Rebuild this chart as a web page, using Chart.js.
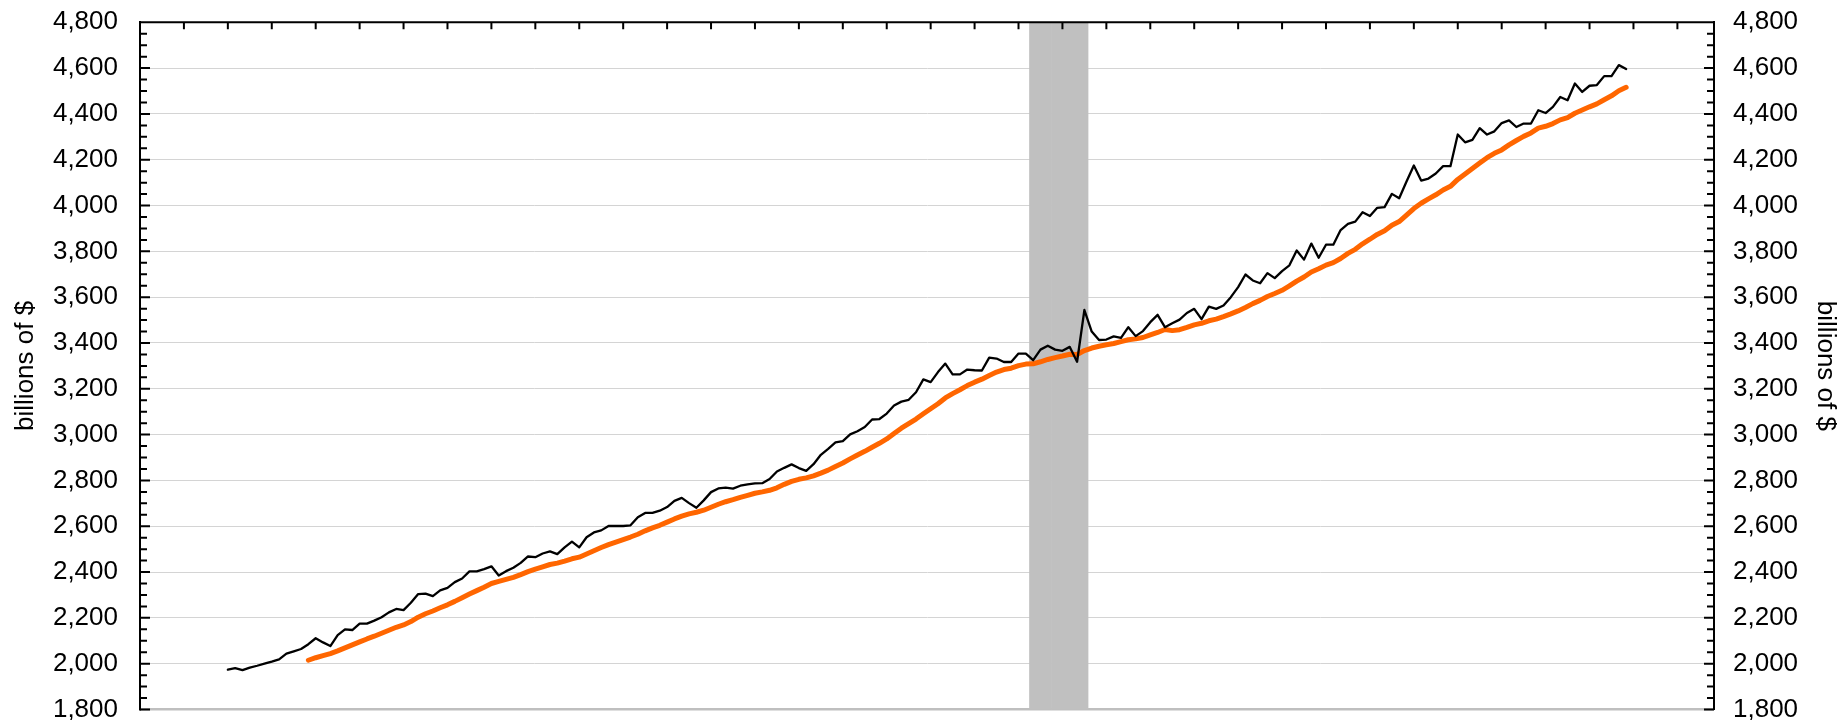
<!DOCTYPE html>
<html>
<head>
<meta charset="utf-8">
<script src="https://cdn.jsdelivr.net/npm/chart.js@4.4.1/dist/chart.umd.min.js"></script>
<style>
  html, body { margin: 0; padding: 0; background: #fff; }
  #wrap { width: 1843px; height: 720px; position: relative; }
</style>
</head>
<body>
<div id="wrap"><canvas id="c"></canvas></div>
<script>
// ---- data ----
const years = [1991,1992,1993,1994,1995,1996,1997,1998,1999,2000,2001,2002,2003,2004,2005,2006,2007,2008];
const monthNames = ['Jan','Feb','Mar','Apr','May','Jun','Jul','Aug','Sep','Oct','Nov','Dec'];
const categories = years.flatMap(y => monthNames.map(m => m + ' ' + y));

const monthlyStart = 'Jan 1992';
const monthly = [
  1974,1981,1972,1983,1991,2000,2009,2019,2044,2054,2064,2085,
  2111,2093,2077,2125,2150,2147,2175,2175,2188,2203,2224,2239,
  2234,2266,2304,2306,2295,2320,2331,2356,2372,2403,2403,2413,
  2425,2385,2404,2419,2440,2468,2465,2481,2490,2478,2508,2533,
  2508,2552,2573,2582,2601,2601,2601,2604,2639,2658,2658,2668,
  2684,2711,2724,2701,2681,2713,2749,2765,2769,2764,2777,2783,
  2787,2788,2806,2839,2855,2870,2854,2842,2871,2912,2938,2966,
  2972,3001,3015,3033,3066,3068,3092,3127,3144,3152,3185,3241,
  3229,3273,3310,3263,3263,3284,3281,3280,3336,3332,3317,3317,
  3354,3354,3325,3371,3388,3371,3366,3383,3318,3544,3450,3413,
  3415,3429,3422,3469,3430,3452,3491,3523,3469,3486,3502,3531,
  3549,3504,3559,3549,3564,3600,3644,3699,3673,3661,3705,3683,
  3714,3739,3804,3764,3834,3772,3829,3829,3893,3920,3930,3971,
  3954,3990,3993,4051,4032,4105,4175,4109,4118,4140,4172,4172,
  4310,4276,4287,4338,4310,4324,4360,4372,4343,4358,4358,4416,
  4404,4431,4474,4460,4533,4496,4523,4526,4565,4565,4613,4596
];

const avgStart = 'Dec 1992';
const movingAvg = [
  2015,
  2026,2035,2044,2056,2069,2082,2095,2108,2120,2133,2146,2159,
  2169,2184,2203,2218,2230,2244,2257,2272,2288,2304,2319,2334,
  2350,2359,2368,2377,2389,2402,2413,2423,2433,2439,2448,2458,
  2465,2479,2493,2507,2520,2531,2542,2553,2565,2580,2593,2604,
  2618,2632,2644,2654,2661,2670,2683,2696,2707,2716,2726,2735,
  2744,2750,2757,2768,2783,2796,2805,2811,2820,2832,2845,2861,
  2876,2894,2911,2927,2945,2962,2981,3005,3028,3048,3068,3091,
  3113,3135,3160,3179,3196,3214,3229,3242,3258,3273,3284,3290,
  3301,3308,3309,3318,3328,3336,3343,3351,3350,3367,3378,3386,
  3392,3398,3406,3414,3418,3424,3435,3446,3459,3454,3458,3468,
  3479,3486,3497,3504,3515,3527,3540,3555,3572,3586,3603,3616,
  3630,3649,3670,3688,3710,3724,3740,3751,3769,3791,3809,3833,
  3853,3874,3890,3914,3930,3958,3987,4010,4029,4047,4068,4084,
  4114,4138,4162,4186,4209,4228,4243,4265,4284,4302,4317,4338,
  4346,4358,4374,4384,4403,4417,4431,4444,4462,4479,4501,4516
];

const recessionMonths = ['Mar 2001','Apr 2001','May 2001','Jun 2001','Jul 2001','Aug 2001','Sep 2001','Oct 2001'];

const yMin = 1800, yMax = 4800, yStep = 200, yMinorStep = 50;
const xTickEvery = 6;
const axisTitle = 'billions of $';

// ---- build library data from the arrays ----
function place(values, startLabel) {
  const s = categories.indexOf(startLabel);
  return categories.map((c, i) => (i >= s && i - s < values.length) ? values[i - s] : null);
}
const monthlyData = place(monthly, monthlyStart);
const avgData = place(movingAvg, avgStart);
const recessionData = categories.map(c => recessionMonths.includes(c) ? 1 : null);

const axisMarks = {
  id: 'axisMarks',
  afterDraw(chart) {
    const {ctx, chartArea: a, scales} = chart;
    const x = scales.x, y = scales.y;
    ctx.save();
    ctx.strokeStyle = '#000';
    ctx.lineWidth = 2;
    ctx.beginPath();
    ctx.moveTo(a.left - 1, a.top);
    ctx.lineTo(a.right + 1, a.top);
    for (let v = yMin; v <= yMax; v += yMinorStep) {
      const py = y.getPixelForValue(v);
      const len = ((v - yMin) % yStep === 0) ? 10 : 7;
      ctx.moveTo(a.left, py); ctx.lineTo(a.left + len, py);
      ctx.moveTo(a.right, py); ctx.lineTo(a.right - len, py);
    }
    for (let i = 0; i < categories.length; i += xTickEvery) {
      const px = x.getPixelForValue(i);
      ctx.moveTo(px, a.top); ctx.lineTo(px, a.top + 7);
    }
    ctx.stroke();
    ctx.restore();
  }
};

Chart.defaults.font.family = '"Liberation Sans", Arial, sans-serif';
Chart.defaults.color = '#000';

const tickFont = { size: 26, lineHeight: 0.8 };
const titleFont = { size: 26, lineHeight: 1.2 };
const fmt = v => Number(v).toLocaleString('en-US');

const chart = new Chart(document.getElementById('c'), {
  data: {
    labels: categories,
    datasets: [
      {
        type: 'line', label: 'monthly', data: monthlyData,
        borderColor: '#000', borderWidth: 2.3, pointRadius: 0, tension: 0,
        borderJoinStyle: 'round', borderCapStyle: 'round', order: 0, yAxisID: 'y'
      },
      {
        type: 'line', label: '12-month average', data: avgData,
        borderColor: '#ff6600', borderWidth: 5, pointRadius: 0, tension: 0,
        borderJoinStyle: 'round', borderCapStyle: 'round', order: 1, yAxisID: 'y'
      },
      {
        type: 'bar', label: 'recession', data: recessionData,
        backgroundColor: '#c0c0c0', borderWidth: 0,
        barPercentage: 1.0, categoryPercentage: 1.0, order: 2, yAxisID: 'yRec'
      }
    ]
  },
  options: {
    responsive: true,
    maintainAspectRatio: false,
    animation: false,
    layout: { padding: { top: 22.3, bottom: 10.5, left: 0, right: 0 } },
    plugins: { legend: { display: false }, tooltip: { enabled: false } },
    scales: {
      x: { type: 'category', display: false, offset: false },
      yRec: { type: 'linear', display: false, min: 0, max: 1 },
      y: {
        type: 'linear', position: 'left', min: yMin, max: yMax,
        ticks: { stepSize: yStep, padding: 0, font: tickFont, callback: fmt },
        grid: {
          drawTicks: true, tickLength: 22, tickColor: 'rgba(0,0,0,0)',
          color: ctx => (ctx.tick && ctx.tick.value === yMin) ? '#bfbfbf' : '#d4d4d4',
          lineWidth: ctx => (ctx.tick && ctx.tick.value === yMin) ? 2.5 : 1
        },
        border: { display: true, color: '#000', width: 2 },
        title: { display: true, text: axisTitle, font: titleFont, padding: { top: 10.4, bottom: 0 } },
        afterFit: s => { s.width = 140; }
      },
      y2: {
        type: 'linear', position: 'right', min: yMin, max: yMax,
        ticks: { stepSize: yStep, padding: 0, font: tickFont, callback: fmt },
        grid: { drawTicks: true, tickLength: 19, tickColor: 'rgba(0,0,0,0)', drawOnChartArea: false },
        border: { display: true, color: '#000', width: 2 },
        title: { display: true, text: axisTitle, font: titleFont, padding: { top: 2.4, bottom: 0 } },
        afterFit: s => { s.width = 129; }
      }
    }
  },
  plugins: [axisMarks]
});
</script>
</body>
</html>
